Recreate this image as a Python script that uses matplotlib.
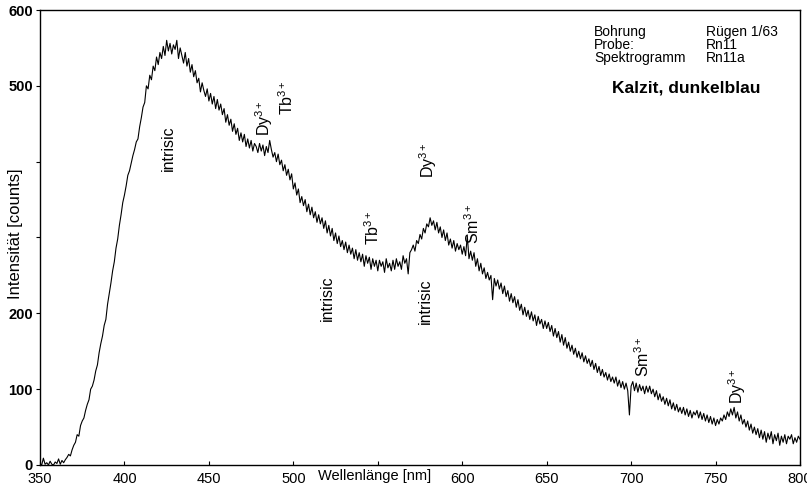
import numpy as np
import matplotlib
matplotlib.use("Agg")
import matplotlib.pyplot as plt

plt.rcParams['font.family'] = ['Liberation Sans', 'DejaVu Sans']
plt.rcParams['mathtext.fontset'] = 'custom'
plt.rcParams['mathtext.rm'] = 'Liberation Sans'
plt.rcParams['mathtext.it'] = 'Liberation Sans'

# wavelength grid (nm), 1 nm steps
wavelength = np.arange(350, 801, 1)

# intensity (counts)
intensity = [
    2, 0, 9, 1, 3, 0, 5, 1, 0, 4,
    2, 8, 1, 6, 3, 7, 10, 14, 12, 20,
    26, 30, 40, 38, 52, 58, 62, 72, 80, 86,
    100, 104, 112, 124, 132, 148, 160, 170, 184, 192,
    212, 226, 240, 256, 268, 286, 298, 316, 330, 346,
    356, 368, 382, 388, 398, 408, 416, 426, 430, 446,
    458, 472, 478, 500, 496, 514, 508, 526, 520, 538,
    528, 544, 536, 552, 540, 560, 546, 556, 542, 554,
    548, 560, 536, 550, 540, 530, 544, 526, 536, 518,
    528, 512, 520, 504, 510, 492, 504, 494, 486, 496,
    480, 490, 476, 486, 470, 482, 468, 476, 462, 470,
    452, 462, 448, 456, 440, 450, 436, 444, 428, 438,
    426, 436, 420, 430, 418, 428, 414, 424, 420, 412,
    424, 414, 422, 408, 420, 412, 428, 416, 406, 412,
    400, 410, 396, 402, 388, 396, 382, 390, 376, 384,
    364, 372, 356, 364, 346, 354, 342, 350, 334, 344,
    330, 340, 326, 334, 320, 330, 318, 326, 312, 322,
    306, 316, 302, 312, 296, 306, 292, 302, 288, 296,
    284, 294, 280, 290, 278, 286, 272, 284, 270, 280,
    268, 278, 262, 276, 266, 274, 258, 272, 262, 270,
    256, 270, 262, 268, 254, 272, 260, 266, 256, 270,
    258, 272, 262, 268, 258, 276, 266, 272, 252, 280,
    284, 290, 282, 296, 292, 304, 298, 312, 306, 318,
    314, 326, 316, 322, 310, 320, 306, 314, 300, 310,
    296, 306, 290, 298, 286, 296, 282, 292, 284, 290,
    278, 288, 276, 302, 272, 282, 270, 280, 262, 272,
    256, 266, 252, 260, 246, 254, 244, 250, 218, 246,
    236, 244, 232, 240, 226, 236, 222, 230, 216, 226,
    214, 222, 208, 218, 204, 212, 198, 208, 196, 204,
    192, 202, 190, 198, 184, 196, 186, 192, 180, 190,
    180, 188, 176, 184, 170, 180, 168, 176, 162, 172,
    158, 168, 154, 162, 150, 158, 146, 154, 142, 150,
    140, 148, 136, 144, 134, 140, 130, 138, 126, 134,
    122, 130, 118, 126, 116, 122, 112, 120, 110, 116,
    108, 116, 104, 112, 102, 110, 100, 108, 98, 66,
    104, 110, 98, 108, 96, 106, 98, 104, 94, 104,
    96, 104, 94, 100, 90, 98, 86, 94, 84, 90,
    80, 88, 78, 86, 74, 82, 72, 80, 70, 76,
    68, 76, 66, 74, 64, 72, 62, 70, 66, 72,
    62, 70, 60, 68, 58, 66, 56, 64, 54, 62,
    52, 60, 54, 62, 58, 66, 60, 70, 64, 74,
    66, 76, 62, 70, 58, 66, 54, 60, 50, 58,
    46, 54, 42, 50, 40, 48, 36, 46, 34, 44,
    30, 42, 34, 44, 28, 40, 32, 42, 26, 38,
    30, 40, 28, 38, 34, 40, 28, 36, 30, 38,
    34,
]

x_ticks = [350, 400, 450, 500, 550, 600, 650, 700, 750, 800]
x_tick_labels = ['350', '400', '450', '500', '', '600', '650', '700', '750', '800']
y_ticks = [0, 100, 200, 300, 400, 500, 600]
y_tick_labels = ['0', '100', '200', '', '', '500', '600']

# peak annotations: (text, wavelength, counts)
annotations = [
    ('intrisic', 426, 418),
    ('Dy$^{3+}$', 483, 458),
    ('Tb$^{3+}$', 496, 484),
    ('intrisic', 520, 220),
    ('Tb$^{3+}$', 547, 313),
    ('intrisic', 578, 216),
    ('Dy$^{3+}$', 580, 402),
    ('Sm$^{3+}$', 606, 318),
    ('Sm$^{3+}$', 707, 142),
    ('Dy$^{3+}$', 763, 104),
]

info_left = ['Bohrung', 'Probe:', 'Spektrogramm']
info_right = ['Rügen 1/63', 'Rn11', 'Rn11a']
title_text = 'Kalzit, dunkelblau'

fig = plt.figure(figsize=(8.07, 4.95), dpi=100)
ax = fig.add_axes([40/807, 1-465/495, 760/807, 455/495])

ax.plot(wavelength, intensity, color='black', lw=0.8)
ax.set_xlim(350, 800)
ax.set_ylim(0, 600)

ax.set_xticks(x_ticks)
ax.set_xticklabels(x_tick_labels, fontsize=10.5)
ax.set_yticks(y_ticks)
ax.set_yticklabels(y_tick_labels, fontsize=10.5, fontweight='bold')
ax.tick_params(axis='x', direction='in', length=3, pad=5)
ax.tick_params(axis='y', direction='out', length=3, pad=2)
for s in ax.spines.values():
    s.set_linewidth(1.0)

ax.text(548, -14, 'Wellenlänge [nm]', ha='center', va='center', fontsize=10.5)
fig.text(16/807, 1-234/495, 'Intensität [counts]', rotation=90,
         ha='center', va='center', fontsize=12)

for txt, xv, yv in annotations:
    ax.text(xv, yv, txt, rotation=90, ha='center', va='center', fontsize=11.5)

ys = [32, 45, 58]
for yp, l, r in zip(ys, info_left, info_right):
    fig.text(594/807, 1-yp/495, l, ha='left', va='center', fontsize=10)
    fig.text(706/807, 1-yp/495, r, ha='left', va='center', fontsize=10)
fig.text(686/807, 1-88/495, title_text, ha='center', va='center', fontsize=12.5, fontweight='bold')

fig.savefig('out.png', dpi=100)
